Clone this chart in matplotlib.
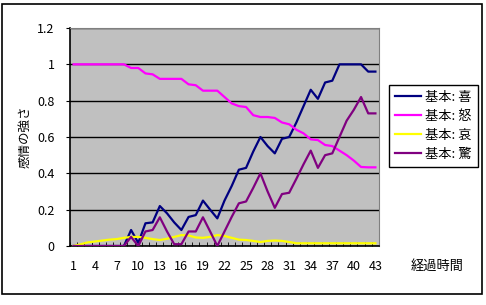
import matplotlib
matplotlib.use("Agg")
import matplotlib.pyplot as plt
from matplotlib.patches import Rectangle

plt.rcParams['font.family'] = ['Noto Sans CJK JP', 'DejaVu Sans']

# 経過時間 1..43
steps = list(range(1, 44))

joy = [0, 0, 0, 0, 0, 0, 0, 0, 0.088, 0.017,
       0.125, 0.13, 0.22, 0.18, 0.13, 0.088, 0.16, 0.17, 0.25, 0.2,
       0.152, 0.25, 0.33, 0.42, 0.43, 0.52, 0.6, 0.55, 0.51, 0.59,
       0.6, 0.68, 0.77, 0.86, 0.81, 0.9, 0.91, 1.0, 1.0, 1.0,
       1.0, 0.96, 0.96]
anger = [1.0, 1.0, 1.0, 1.0, 1.0, 1.0, 1.0, 1.0, 0.98, 0.98,
         0.95, 0.945, 0.92, 0.92, 0.92, 0.92, 0.89, 0.885, 0.855, 0.855,
         0.855, 0.82, 0.785, 0.77, 0.765, 0.72, 0.71, 0.71, 0.705, 0.68,
         0.67, 0.64, 0.62, 0.587, 0.583, 0.556, 0.55, 0.525, 0.5, 0.47,
         0.435, 0.433, 0.433]
sorrow = [0.0, 0.01, 0.02, 0.025, 0.03, 0.035, 0.038, 0.045, 0.05, 0.05,
          0.045, 0.038, 0.033, 0.04, 0.05, 0.06, 0.058, 0.047, 0.045, 0.05,
          0.06, 0.055, 0.045, 0.035, 0.033, 0.028, 0.022, 0.028, 0.03, 0.028,
          0.022, 0.015, 0.015, 0.015, 0.015, 0.015, 0.015, 0.015, 0.015, 0.015,
          0.015, 0.015, 0.015]
surprise = [0, 0, 0, 0, 0, 0, 0, 0, 0.05, 0.0,
            0.08, 0.088, 0.158, 0.08, 0.01, 0.01, 0.08, 0.08, 0.158, 0.08,
            0.0, 0.08, 0.16, 0.235, 0.245, 0.32, 0.4, 0.3, 0.21, 0.286,
            0.293, 0.37, 0.45, 0.525, 0.43, 0.5, 0.51, 0.6, 0.69, 0.75,
            0.82, 0.73, 0.73]

labels = ['基本: 喜', '基本: 怒', '基本: 哀', '基本: 驚']
colors = ['#000080', '#FF00FF', '#FFFF00', '#800080']
yticks = [0, 0.2, 0.4, 0.6, 0.8, 1, 1.2]
ytick_labels = ['0', '0.2', '0.4', '0.6', '0.8', '1', '1.2']
xtick_labels = steps[::3]

W, H = 486, 305
fig = plt.figure(figsize=(W / 100, H / 100), dpi=100)

# 外枠
fig.patches.append(Rectangle((2 / W, 1 - 294 / H), 480 / W, 290 / H,
                             transform=fig.transFigure, fill=False,
                             edgecolor='black', linewidth=1.2))

ax = fig.add_axes([70 / W, 1 - 246 / H, 309 / W, 218 / H])
ax.set_facecolor('#C0C0C0')

for series, lab, col in zip([joy, anger, sorrow, surprise], labels, colors):
    ax.plot(steps, series, color=col, linewidth=1.6, label=lab, zorder=3)

ax.set_xlim(0.5, 43.5)
ax.set_ylim(0, 1.2)

ax.set_yticks(yticks)
ax.set_yticklabels(ytick_labels, fontsize=9)
ax.yaxis.grid(True, color='black', linewidth=1)
ax.set_axisbelow(True)
ax.tick_params(axis='y', direction='out', length=3, pad=8)

# 目盛ラベル 1,4,7,...  目盛線は区切り位置
ax.set_xticks(xtick_labels)
ax.set_xticklabels([str(v) for v in xtick_labels], fontsize=9)
ax.tick_params(axis='x', length=0, pad=10)
ax.set_xticks([v + 0.5 for v in range(0, 44)], minor=True)
ax.tick_params(axis='x', which='minor', direction='in', length=3, color='black')

for side in ['top', 'right']:
    ax.spines[side].set_color('#808080')
for side in ['left', 'bottom']:
    ax.spines[side].set_color('black')
    ax.spines[side].set_linewidth(1.2)

ax.set_ylabel('感情の強さ', fontsize=9, labelpad=4)
fig.text(437 / W, 1 - 266 / H, '経過時間', fontsize=9.5, ha='center', va='center')

leg = ax.legend(loc='upper left', bbox_to_anchor=(389 / W, 1 - 85 / H),
                bbox_transform=fig.transFigure, fontsize=9.5, frameon=True,
                fancybox=False, edgecolor='black', framealpha=1,
                handlelength=2.0, handletextpad=0.3, labelspacing=0.45,
                borderpad=0.45, borderaxespad=0)
leg.get_frame().set_linewidth(1)

fig.savefig('out.png', dpi=100)
